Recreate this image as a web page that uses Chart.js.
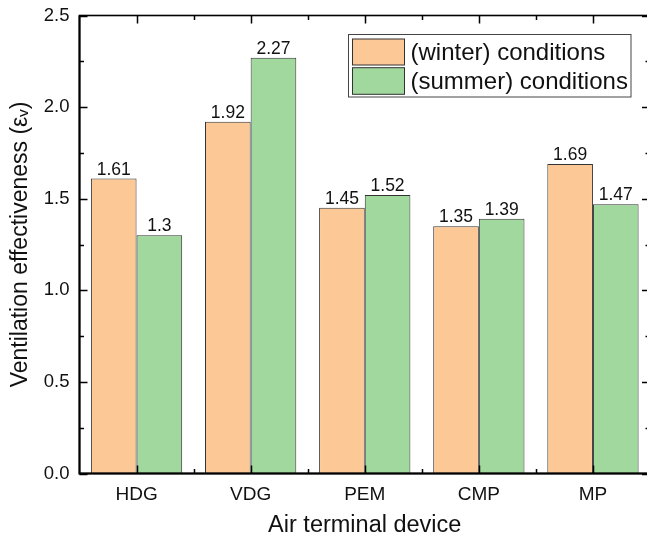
<!DOCTYPE html>
<html>
<head>
<meta charset="utf-8">
<script src="https://cdn.jsdelivr.net/npm/chart.js@4/dist/chart.umd.min.js"></script>
<style>
  html, body { margin: 0; padding: 0; background: #fff; overflow: hidden; }
  #wrap { width: 660px; height: 540px; position: relative; }
</style>
</head>
<body>
<div id="wrap"><canvas id="c"></canvas></div>
<script>
const categories = ['HDG', 'VDG', 'PEM', 'CMP', 'MP'];
const winterValues = [1.61, 1.92, 1.45, 1.35, 1.69];
const summerValues = [1.3, 2.27, 1.52, 1.39, 1.47];
const seriesLabels = ['(winter) conditions', '(summer) conditions'];
const yTickLabels = ['0.0', '0.5', '1.0', '1.5', '2.0', '2.5'];
const yMin = 0, yMax = 2.5, yMajorStep = 0.5, yMinorStep = 0.25;

const FONT = "'Liberation Sans', Arial, 'DejaVu Sans', sans-serif";
const winterColor = '#FCC996';
const summerColor = '#A0D89D';
const barBorder = '#333333';

const framePlugin = {
  id: 'frame',
  afterDraw(chart) {
    const ctx = chart.ctx;
    const a = chart.chartArea;
    const xs = chart.scales.x, ys = chart.scales.y;
    ctx.save();
    ctx.strokeStyle = '#000';
    ctx.lineWidth = 1.5;
    const nMinor = Math.round((yMax - yMin) / yMinorStep);
    for (let i = 0; i <= nMinor; i++) {
      const v = yMin + i * yMinorStep;
      const py = Math.round(ys.getPixelForValue(v)) + 0.5;
      const major = i % 2 === 0;
      const len = major ? 8 : 4.5;
      ctx.beginPath();
      ctx.moveTo(a.left, py); ctx.lineTo(a.left + len, py);
      ctx.moveTo(a.right, py); ctx.lineTo(a.right - len, py);
      ctx.stroke();
    }
    const n = categories.length;
    for (let i = 0; i < n; i++) {
      const cx = xs.getPixelForValue(i);
      const half = (xs.getPixelForValue(1) - xs.getPixelForValue(0)) / 2;
      const px = Math.round(cx) + 0.5;
      ctx.beginPath();
      ctx.moveTo(px, a.top); ctx.lineTo(px, a.top + 8);
      ctx.moveTo(px, a.bottom); ctx.lineTo(px, a.bottom - 8);
      ctx.stroke();
      if (i < n - 1) {
        const bx = Math.round(cx + half) + 0.5;
        ctx.beginPath();
        ctx.moveTo(bx, a.top); ctx.lineTo(bx, a.top + 4.5);
        ctx.moveTo(bx, a.bottom); ctx.lineTo(bx, a.bottom - 4.5);
        ctx.stroke();
      }
    }
    ctx.lineWidth = 1.6;
    ctx.strokeRect(a.left, a.top, a.right - a.left, a.bottom - a.top);
    ctx.lineWidth = 2;
    ctx.beginPath();
    ctx.moveTo(a.left, a.top); ctx.lineTo(a.left, a.bottom); ctx.lineTo(a.right, a.bottom);
    ctx.stroke();

    ctx.fillStyle = '#111';
    ctx.font = '17.5px ' + FONT;
    ctx.textAlign = 'center';
    ctx.textBaseline = 'alphabetic';
    chart.data.datasets.forEach((ds, di) => {
      const meta = chart.getDatasetMeta(di);
      meta.data.forEach((bar, j) => {
        ctx.fillText(String(ds.data[j]), bar.x, bar.y - 4);
      });
    });

    const lx = 348.5, ly = 34.5, lw = 282.5, lh = 62.5;
    ctx.fillStyle = '#fff';
    ctx.fillRect(lx, ly, lw, lh);
    ctx.lineWidth = 1;
    ctx.strokeStyle = '#444';
    ctx.strokeRect(lx, ly, lw, lh);
    const rows = [[39, 26], [67.7, 26.6]];
    chart.data.datasets.forEach((ds, di) => {
      const [sy, sh] = rows[di];
      ctx.fillStyle = ds.backgroundColor;
      ctx.fillRect(352.5, sy, 52, sh);
      ctx.strokeStyle = '#333';
      ctx.strokeRect(352.5, sy, 52, sh);
      ctx.fillStyle = '#111';
      ctx.font = '24px ' + FONT;
      ctx.textAlign = 'left';
      ctx.textBaseline = 'middle';
      ctx.fillText(ds.label, 410.5, sy + sh / 2 + 1);
    });
    ctx.restore();
  }
};

new Chart(document.getElementById('c'), {
  type: 'bar',
  data: {
    labels: categories,
    datasets: [
      { label: seriesLabels[0], data: winterValues, backgroundColor: winterColor, borderColor: barBorder, borderWidth: 1 },
      { label: seriesLabels[1], data: summerValues, backgroundColor: summerColor, borderColor: barBorder, borderWidth: 1 }
    ]
  },
  options: {
    responsive: true,
    maintainAspectRatio: false,
    devicePixelRatio: 1,
    animation: false,
    layout: { padding: { top: 15.5, right: 10, left: 0, bottom: 0 } },
    plugins: { legend: { display: false }, tooltip: { enabled: false } },
    datasets: { bar: { categoryPercentage: 0.8, barPercentage: 1.0 } },
    scales: {
      x: {
        grid: { display: false, drawTicks: false },
        border: { display: false },
        ticks: { color: '#111', font: { family: FONT, size: 19 }, padding: 10 },
        title: { display: true, text: 'Air terminal device', color: '#111', font: { family: FONT, size: 23.5 }, padding: 0 },
        afterFit(s) { s.height = 66.5; s.paddingLeft = 0; s.paddingRight = 0; }
      },
      y: {
        min: yMin, max: yMax,
        grid: { display: false, drawTicks: false },
        border: { display: false },
        ticks: {
          stepSize: yMajorStep,
          color: '#111',
          font: { family: FONT, size: 18.5 },
          padding: 10,
          callback: (v) => yTickLabels[Math.round((v - yMin) / yMajorStep)]
        },
        title: { display: true, text: 'Ventilation effectiveness (εᵥ)', color: '#111', font: { family: FONT, size: 23 }, padding: { top: 7, bottom: 0 } },
        afterFit(s) { s.width = 79.5; s.paddingTop = 0; s.paddingBottom = 0; }
      }
    }
  },
  plugins: [framePlugin]
});
</script>
</body>
</html>
